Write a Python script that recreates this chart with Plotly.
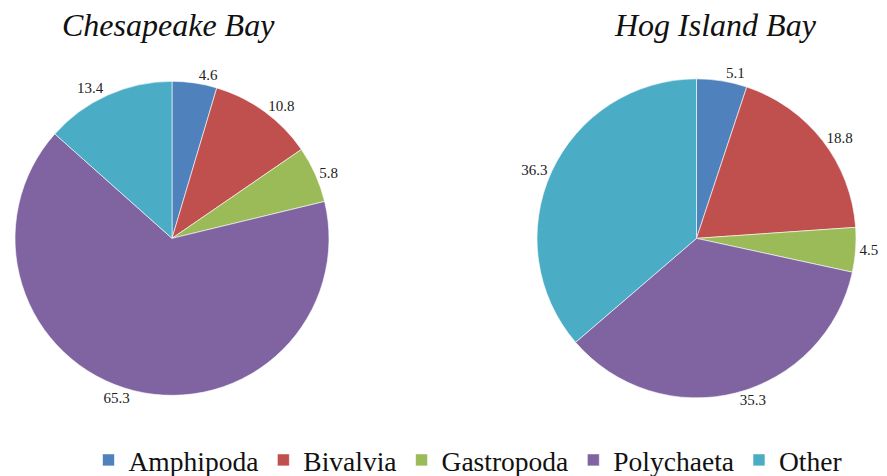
import plotly.graph_objects as go

categories = ["Amphipoda", "Bivalvia", "Gastropoda", "Polychaeta", "Other"]
chesapeake = [4.6, 10.8, 5.8, 65.3, 13.4]
hog_island = [5.1, 18.8, 4.5, 35.3, 36.3]
titles = ["Chesapeake Bay", "Hog Island Bay"]
colors = ["#4F81BD", "#C0504D", "#9BBB59", "#8064A2", "#4BACC6"]

W, H = 887, 476
PH = 433                # plot-area height left after the legend reserves its strip
FONT = "Times New Roman"

def dom(x0, x1, ytop, ybot):
    return dict(x=[x0 / W, x1 / W], y=[(PH - ybot) / PH, (PH - ytop) / PH])

fig = go.Figure()
for vals, d, show in [(chesapeake, dom(15, 329, 80, 394), True),
                      (hog_island, dom(537, 856, 78, 396), False)]:
    fig.add_trace(go.Pie(
        labels=categories, values=vals, sort=False, direction="clockwise",
        rotation=0, domain=d, textposition="outside", texttemplate="%{value}",
        marker=dict(colors=colors, line=dict(color="white", width=0.6)),
        textfont=dict(family=FONT, size=15, color="#222"),
        showlegend=show, hoverinfo="label+value",
    ))

fig.update_layout(
    width=W, height=H, margin=dict(l=0, r=0, t=0, b=0),
    paper_bgcolor="white", plot_bgcolor="white",
    font=dict(family=FONT, color="#111"),
    legend=dict(orientation="h", x=468 / W, xanchor="center", xref="container",
                y=16 / H, yanchor="middle", yref="container",
                font=dict(family=FONT, size=27.5, color="#111"), itemwidth=30,
                traceorder="normal"),
    annotations=[
        dict(text="<i>%s</i>" % titles[0], x=168 / W, y=(PH - 25) / PH, xref="paper", yref="paper",
             showarrow=False, font=dict(family=FONT, size=32, color="#111"), xanchor="center", yanchor="middle"),
        dict(text="<i>%s</i>" % titles[1], x=715 / W, y=(PH - 25) / PH, xref="paper", yref="paper",
             showarrow=False, font=dict(family=FONT, size=32, color="#111"), xanchor="center", yanchor="middle"),
    ],
)
fig.write_html("out.html", config={"displayModeBar": False},
               post_script="document.body.style.margin='0';")
